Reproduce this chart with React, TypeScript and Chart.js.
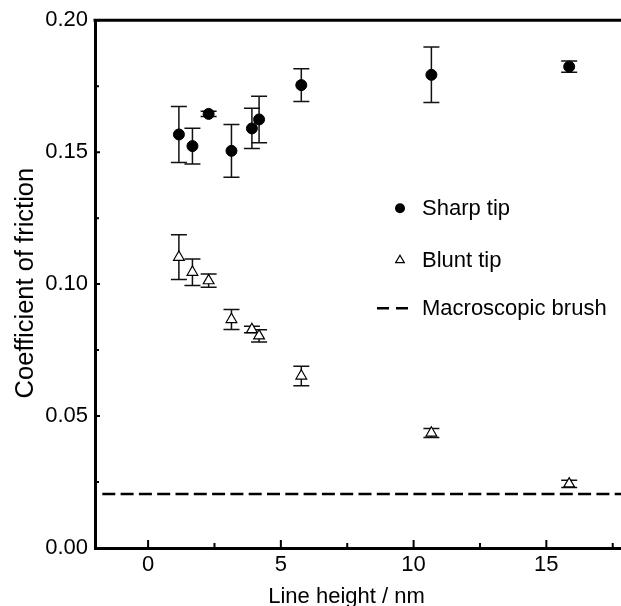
import React, { useEffect, useRef } from "react";
import { Chart, registerables } from "chart.js";

Chart.register(...registerables);

// ---- data ----
const sharpX = [1.16, 1.67, 2.28, 3.14, 3.91, 4.18, 5.77, 10.67, 15.86];
const sharpY = [0.1567, 0.1523, 0.1645, 0.1505, 0.159, 0.1624, 0.1754, 0.1793, 0.1824];
const sharpErr = [0.0106, 0.0068, 0.001, 0.01, 0.0076, 0.0088, 0.0062, 0.0105, 0.0021];
const bluntX = [1.16, 1.67, 2.28, 3.14, 3.91, 4.18, 5.77, 10.67, 15.86];
const bluntY = [0.1102, 0.1045, 0.1013, 0.0866, 0.0828, 0.0804, 0.0652, 0.0436, 0.0243];
const bluntErr = [0.0085, 0.005, 0.0025, 0.0038, 0.0012, 0.0023, 0.0037, 0.0017, 0.0014];
const brushY = 0.0205;
const seriesLabels = ["Sharp tip", "Blunt tip", "Macroscopic brush"];
const xMin = -2;
const xMax = 18;
const yMin = 0;
const yMax = 0.2;
const xTicks = [0, 5, 10, 15];
const xMinorTicks = [2.5, 7.5, 12.5, 17.5];
const yTicks = [0, 0.05, 0.1, 0.15, 0.2];
const yMinorTicks = [0.025, 0.075, 0.125, 0.175];
const xTitle = "Line height / nm";
const yTitle = "Coefficient of friction";

const FONT = "'Liberation Sans', Arial, Helvetica, sans-serif";

const errorBarPlugin = {
  id: "errorBars",
  beforeDatasetsDraw(chart: any) {
    const ctx = chart.ctx;
    const xs = chart.scales.x;
    const ys = chart.scales.y;
    const sets = [
      { x: sharpX, y: sharpY, e: sharpErr },
      { x: bluntX, y: bluntY, e: bluntErr },
    ];
    ctx.save();
    ctx.strokeStyle = "#111";
    ctx.lineWidth = 1.5;
    const cap = 8;
    sets.forEach((s) => {
      s.x.forEach((xv, i) => {
        const px = xs.getPixelForValue(xv);
        const pTop = ys.getPixelForValue(s.y[i] + s.e[i]);
        const pBot = ys.getPixelForValue(s.y[i] - s.e[i]);
        ctx.beginPath();
        ctx.moveTo(px, pTop);
        ctx.lineTo(px, pBot);
        ctx.moveTo(px - cap, pTop);
        ctx.lineTo(px + cap, pTop);
        ctx.moveTo(px - cap, pBot);
        ctx.lineTo(px + cap, pBot);
        ctx.stroke();
      });
    });
    ctx.restore();
  },
};

const framePlugin = {
  id: "frame",
  afterDraw(chart: any) {
    const ctx = chart.ctx;
    const { left, right, top, bottom } = chart.chartArea;
    const xs = chart.scales.x;
    const ys = chart.scales.y;
    ctx.save();
    // top frame line
    ctx.strokeStyle = "#000";
    ctx.lineWidth = 3;
    ctx.beginPath();
    ctx.moveTo(left - 1.5, top);
    ctx.lineTo(right, top);
    ctx.stroke();
    // inward ticks
    ctx.lineWidth = 2;
    ctx.beginPath();
    xTicks.forEach((v) => {
      const p = xs.getPixelForValue(v);
      ctx.moveTo(p, bottom);
      ctx.lineTo(p, bottom - 8);
    });
    xMinorTicks.forEach((v) => {
      const p = xs.getPixelForValue(v);
      ctx.moveTo(p, bottom);
      ctx.lineTo(p, bottom - 5);
    });
    yTicks.forEach((v) => {
      const p = ys.getPixelForValue(v);
      ctx.moveTo(left, p);
      ctx.lineTo(left + 5, p);
    });
    yMinorTicks.forEach((v) => {
      const p = ys.getPixelForValue(v);
      ctx.moveTo(left, p);
      ctx.lineTo(left + 4, p);
    });
    ctx.stroke();

    // axis titles
    ctx.fillStyle = "#000";
    ctx.font = `22px ${FONT}`;
    ctx.textAlign = "center";
    ctx.textBaseline = "alphabetic";
    ctx.fillText(xTitle, left + 251.5, bottom + 55);
    ctx.save();
    ctx.translate(33, (top + bottom) / 2 - 1);
    ctx.rotate(-Math.PI / 2);
    ctx.font = `25.5px ${FONT}`;
    ctx.fillText(yTitle, 0, 0);
    ctx.restore();

    // legend
    const lx = left + 305;
    const tx = left + 327;
    const rows = [top + 188, top + 240, top + 288];
    ctx.font = `22px ${FONT}`;
    ctx.textAlign = "left";
    ctx.textBaseline = "middle";
    // sharp
    ctx.beginPath();
    ctx.fillStyle = "#000";
    ctx.arc(lx, rows[0], 5, 0, Math.PI * 2);
    ctx.fill();
    // blunt
    const r = 5;
    ctx.beginPath();
    ctx.moveTo(lx, rows[1] - r);
    ctx.lineTo(lx + r * 0.866, rows[1] + r / 2);
    ctx.lineTo(lx - r * 0.866, rows[1] + r / 2);
    ctx.closePath();
    ctx.fillStyle = "#fff";
    ctx.fill();
    ctx.strokeStyle = "#000";
    ctx.lineWidth = 1.2;
    ctx.stroke();
    // brush
    ctx.beginPath();
    ctx.lineWidth = 2.5;
    ctx.setLineDash([12, 7]);
    ctx.moveTo(lx - 23, rows[2]);
    ctx.lineTo(lx + 8, rows[2]);
    ctx.stroke();
    ctx.setLineDash([]);
    ctx.fillStyle = "#000";
    seriesLabels.forEach((lab, i) => {
      ctx.fillText(lab, tx, rows[i] + 1);
    });
    ctx.restore();
  },
};

export default function App() {
  const ref = useRef<HTMLCanvasElement | null>(null);
  useEffect(() => {
    if (!ref.current) return;
    const chart = new Chart(ref.current, {
      type: "scatter",
      data: {
        datasets: [
          {
            label: seriesLabels[0],
            data: sharpX.map((x, i) => ({ x, y: sharpY[i] })),
            pointStyle: "circle",
            pointRadius: 5.5,
            pointBackgroundColor: "#000",
            pointBorderColor: "#000",
            pointBorderWidth: 1,
          },
          {
            label: seriesLabels[1],
            data: bluntX.map((x, i) => ({ x, y: bluntY[i] })),
            pointStyle: "triangle",
            pointRadius: 6.2,
            pointBackgroundColor: "#fff",
            pointBorderColor: "#000",
            pointBorderWidth: 1.2,
          },
          {
            type: "line",
            label: seriesLabels[2],
            data: [
              { x: xMin, y: brushY },
              { x: xMax, y: brushY },
            ],
            borderColor: "#000",
            borderWidth: 2.5,
            borderDash: [13, 5.3],
            borderDashOffset: 11,
            pointRadius: 0,
            fill: false,
          } as any,
        ],
      },
      options: {
        animation: false,
        responsive: false,
        maintainAspectRatio: false,
        layout: { padding: { top: 20, right: 14, left: 0, bottom: 0 } },
        plugins: {
          legend: { display: false },
          tooltip: { enabled: false },
        },
        scales: {
          x: {
            type: "linear",
            min: xMin,
            max: xMax,
            afterBuildTicks: (s: any) => {
              s.ticks = xTicks.map((v) => ({ value: v }));
            },
            afterFit: (s: any) => {
              s.height = 64;
            },
            grid: { display: false, drawTicks: false },
            border: { display: true, width: 3, color: "#000" },
            ticks: {
              padding: 4,
              color: "#000",
              maxRotation: 0,
              font: { family: FONT, size: 22 },
            },
          },
          y: {
            type: "linear",
            min: yMin,
            max: yMax,
            afterBuildTicks: (s: any) => {
              s.ticks = yTicks.map((v) => ({ value: v }));
            },
            afterFit: (s: any) => {
              s.width = 95;
            },
            grid: { display: false, drawTicks: false },
            border: { display: true, width: 3, color: "#000" },
            ticks: {
              padding: 7,
              color: "#000",
              font: { family: FONT, size: 22 },
              callback: (v: any) => Number(v).toFixed(2),
            },
          },
        },
      },
      plugins: [errorBarPlugin, framePlugin],
    } as any);
    return () => chart.destroy();
  }, []);

  return (
    <div
      style={{
        position: "fixed",
        left: 0,
        top: 0,
        width: 621,
        height: 606,
        overflow: "hidden",
        background: "#fff",
      }}
    >
      <canvas ref={ref} width={640} height={612} style={{ display: "block" }} />
    </div>
  );
}
